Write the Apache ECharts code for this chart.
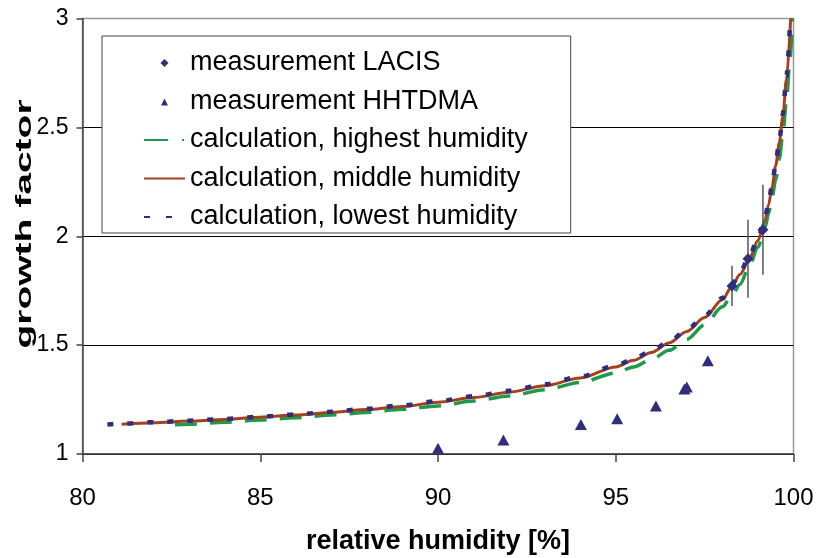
<!DOCTYPE html>
<html><head><meta charset="utf-8">
<script src="https://cdn.jsdelivr.net/npm/echarts@6/dist/echarts.min.js"></script>
<style>html,body{margin:0;padding:0;background:#fff}#c{width:817px;height:558px}</style>
</head><body><div id="c"></div>
<script>
// ---- data ----
const lacisRH   = [98.27, 98.72, 99.14];
const lacisGF   = [1.772, 1.897, 2.03];
const lacisLow  = [1.680, 1.717, 1.823];
const lacisHigh = [1.864, 2.076, 2.237];

const hhtdmaRH = [90.0, 91.84, 94.02, 95.04, 96.13, 96.93, 97.0, 97.59];
const hhtdmaGF = [1.026, 1.064, 1.135, 1.162, 1.221, 1.298, 1.308, 1.428];

const highRH = [82.6, 83, 84, 85, 86, 87, 88, 89, 90, 91, 92, 93, 94, 95, 95.5, 96, 96.5, 97, 97.5, 98, 98.25, 98.5, 98.75, 99, 99.2, 99.3, 99.4, 99.5, 99.6, 99.7, 99.8, 99.9, 99.97];
const highGF = [1.134, 1.137, 1.146, 1.156, 1.167, 1.179, 1.191, 1.205, 1.221, 1.243, 1.266, 1.295, 1.329, 1.372, 1.400, 1.434, 1.476, 1.527, 1.593, 1.676, 1.722, 1.78, 1.86, 1.95, 2.04, 2.105, 2.18, 2.26, 2.355, 2.47, 2.62, 2.81, 3.0];

const midRH = [81.1, 82, 83, 84, 85, 86, 87, 88, 89, 90, 91, 92, 93, 94, 95, 95.5, 96, 96.5, 97, 97.5, 98, 98.25, 98.5, 98.75, 99, 99.2, 99.3, 99.4, 99.5, 99.6, 99.7, 99.8, 99.92];
const midGF = [1.137, 1.144, 1.151, 1.159, 1.169, 1.179, 1.191, 1.204, 1.218, 1.238, 1.259, 1.284, 1.314, 1.349, 1.400, 1.430, 1.466, 1.510, 1.563, 1.627, 1.708, 1.765, 1.825, 1.895, 1.98, 2.075, 2.145, 2.23, 2.325, 2.43, 2.55, 2.72, 3.0];

const lowRH = [80.7, 81.1, 82, 83, 84, 85, 86, 87, 88, 89, 90, 91, 92, 93, 94, 95, 95.5, 96, 96.5, 97, 97.5, 98, 98.25, 98.5, 98.75, 99, 99.2, 99.3, 99.4, 99.5, 99.6, 99.7, 99.8, 99.91];
const lowGF = [1.136, 1.139, 1.146, 1.153, 1.161, 1.171, 1.182, 1.194, 1.208, 1.223, 1.243, 1.265, 1.290, 1.320, 1.355, 1.406, 1.437, 1.473, 1.517, 1.570, 1.635, 1.716, 1.773, 1.835, 1.905, 1.99, 2.085, 2.155, 2.24, 2.335, 2.44, 2.56, 2.735, 3.0];

const seriesNames = ['measurement LACIS', 'measurement HHTDMA', 'calculation, highest humidity', 'calculation, middle humidity', 'calculation, lowest humidity'];
const xTitle = 'relative humidity [%]';
const yTitle = 'growth factor';

// ---- build ----
const zip = (a, b) => a.map((v, i) => [v, b[i]]);
const NAVY = '#2F2D7E', RED = '#A5401F', GREEN = '#1F9A4A';
const FONT = '"Liberation Sans", Arial, sans-serif';
// legend icons: small centred marker inside a 41x8 box
const ICON_DIAMOND = 'path://M0 0M41 8M20.5 0L24.5 4L20.5 8L16.5 4Z';
const ICON_TRIANGLE = 'path://M0 0M41 8M20.5 1L24 8L17 8Z';

const chart = echarts.init(document.getElementById('c'), null, {renderer: 'canvas'});
chart.setOption({
  animation: false,
  backgroundColor: '#fff',
  grid: {left: 82.5, right: 23.5, top: 18.5, bottom: 104, show: true, borderColor: '#999', borderWidth: 1.5, containLabel: false, outerBoundsMode: 'none'},
  xAxis: {
    type: 'value', min: 80, max: 100, interval: 5,
    axisLine: {show: true, onZero: false, lineStyle: {color: '#444', width: 1.5}},
    axisTick: {show: true, inside: false, length: 8, lineStyle: {color: '#444', width: 1.5}},
    axisLabel: {fontFamily: FONT, fontSize: 24, color: '#000', margin: 32},
    splitLine: {show: false},
    name: xTitle, nameLocation: 'middle', nameGap: 74,
    nameTextStyle: {fontFamily: FONT, fontSize: 27, fontWeight: 'bold', color: '#000'}
  },
  yAxis: {
    type: 'value', min: 1, max: 3, interval: 0.5,
    axisLine: {show: true, onZero: false, lineStyle: {color: '#444', width: 1.5}},
    axisTick: {show: true, inside: false, length: 6, lineStyle: {color: '#444', width: 1.5}},
    axisLabel: {fontFamily: FONT, fontSize: 23, color: '#000', margin: 14, padding: [4, 0, 0, 0]},
    splitLine: {show: true, lineStyle: {color: ['#000', '#000', '#000', '#000', '#999'], width: 1}}
  },
  legend: {
    orient: 'vertical', left: 102, top: 36,
    padding: [12, 43, 1, 41], itemWidth: 41, itemHeight: 8, itemGap: 8.5,
    backgroundColor: '#fff', borderColor: '#444', borderWidth: 1,
    textStyle: {fontFamily: FONT, fontSize: 27, color: '#000', lineHeight: 30},
    selectedMode: false,
    data: [
      {name: seriesNames[0], icon: ICON_DIAMOND},
      {name: seriesNames[1], icon: ICON_TRIANGLE},
      {name: seriesNames[2], itemStyle: {opacity: 0}, lineStyle: {type: [24, 14, 2, 10]}},
      {name: seriesNames[3], itemStyle: {opacity: 0}},
      {name: seriesNames[4], itemStyle: {opacity: 0}, lineStyle: {type: [6, 16]}}
    ]
  },
  graphic: [{
    type: 'text', x: 25, y: 224, rotation: Math.PI / 2, scaleY: 0.56,
    style: {text: yTitle, fontFamily: FONT, fontSize: 39, fontWeight: 'bold', fill: '#000', align: 'center', verticalAlign: 'middle'}
  }],
  series: [
    {
      name: seriesNames[2], type: 'line', data: zip(highRH, highGF), z: 2,
      showSymbol: false, symbol: 'none', smooth: 0.3, smoothMonotone: 'x',
      lineStyle: {color: GREEN, width: 3.5, type: [22, 13]}, itemStyle: {color: GREEN}
    },
    {
      name: seriesNames[3], type: 'line', data: zip(midRH, midGF), z: 3,
      showSymbol: false, symbol: 'none', smooth: 0.3, smoothMonotone: 'x',
      lineStyle: {color: RED, width: 3}, itemStyle: {color: RED}
    },
    {
      name: seriesNames[4], type: 'line', data: zip(lowRH, lowGF), z: 4,
      showSymbol: false, symbol: 'none', smooth: 0.3, smoothMonotone: 'x',
      lineStyle: {color: NAVY, width: 4.5, type: [6, 14]}, itemStyle: {color: NAVY}
    },
    {
      name: 'error', type: 'custom', z: 5,
      data: lacisRH.map((x, i) => [x, lacisLow[i], lacisHigh[i]]),
      encode: {x: 0, y: [1, 2]},
      renderItem: function (params, api) {
        const p1 = api.coord([api.value(0), api.value(1)]);
        const p2 = api.coord([api.value(0), api.value(2)]);
        return {type: 'line', shape: {x1: p1[0], y1: p1[1], x2: p2[0], y2: p2[1]}, style: {stroke: '#555', lineWidth: 1.5}};
      }
    },
    {
      name: seriesNames[1], type: 'scatter', data: zip(hhtdmaRH, hhtdmaGF), z: 6,
      symbol: 'triangle', symbolSize: [12, 11], itemStyle: {color: NAVY, opacity: 1}
    },
    {
      name: seriesNames[0], type: 'scatter', data: zip(lacisRH, lacisGF), z: 7,
      symbol: 'diamond', symbolSize: 11, itemStyle: {color: NAVY, opacity: 1}
    }
  ]
});
</script>
</body></html>
